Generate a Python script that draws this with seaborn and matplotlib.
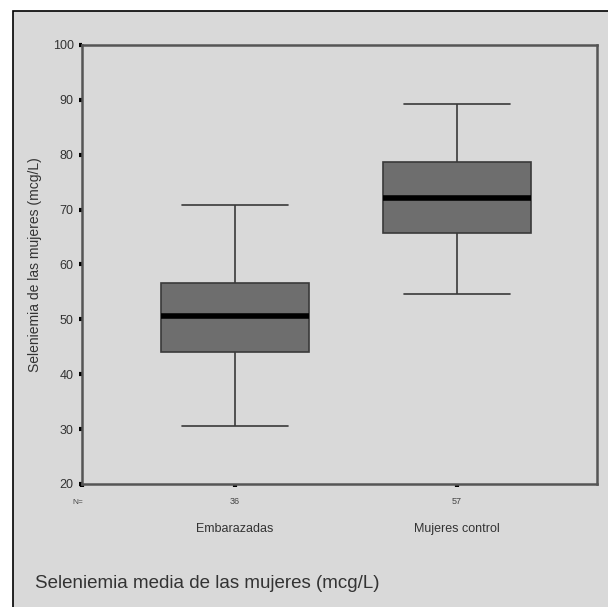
import matplotlib
matplotlib.use("Agg")
import matplotlib.pyplot as plt
import matplotlib.patches as mpatches
import matplotlib.transforms as mtransforms
import pandas as pd
import seaborn as sns

# Datos (mcg/L)
grupos = ["Embarazadas", "Mujeres control"]
n_labels = ["36", "57"]
minimo = [30.6, 54.6]
q1 = [44.1, 65.7]
mediana = [50.6, 72.2]
q3 = [56.6, 78.7]
maximo = [70.8, 89.2]
y_ticks = [20, 30, 40, 50, 60, 70, 80, 90, 100]

FONDO = "#d9d9d9"

# Cinco puntos por grupo: mín, Q1, mediana, Q3, máx
filas = []
for i, g in enumerate(grupos):
    for v in (minimo[i], q1[i], mediana[i], q3[i], maximo[i]):
        filas.append({"grupo": g, "valor": v})
df = pd.DataFrame(filas)

sns.set_theme(style="white")
plt.rcParams["font.family"] = ["Liberation Sans", "DejaVu Sans"]

fig = plt.figure(figsize=(6.08, 6.07), dpi=100, facecolor="white")
fig.patches.append(mpatches.Rectangle(
    (12.5 / 608, -0.05), 1.1, (607 - 10.5) / 607 + 0.05,
    transform=fig.transFigure, facecolor=FONDO, edgecolor="black",
    linewidth=1.2, zorder=-10))

ax = fig.add_axes([82 / 608, 1 - 484 / 607, 515 / 608, 439 / 607])
ax.set_zorder(5)
ax.set_facecolor(FONDO)

ancho = 0.67
sns.boxplot(
    data=df, x="grupo", y="valor", order=grupos, ax=ax,
    width=ancho, color="#6e6e6e", saturation=1, linecolor="#3a3a3a",
    linewidth=1.2, whis=(0, 100), showfliers=False,
    medianprops=dict(color="black", linewidth=4),
)

# Caps un poco más anchos que los de seaborn
for ln in ax.lines:
    xd, yd = list(ln.get_xdata()), list(ln.get_ydata())
    if len(xd) == 2 and yd[0] == yd[1]:
        w = abs(xd[1] - xd[0])
        if w < ancho * 0.9:
            c = (xd[0] + xd[1]) / 2
            ln.set_xdata([c - 0.24, c + 0.24])

ax.set_xlim(-0.689, 1.63)
ax.set_ylim(20, 100)
ax.set_yticks(y_ticks)
ax.set_yticklabels([str(t) for t in y_ticks], fontsize=9, color="#333333")
ax.set_xticks([-0.689, 0, 1])
ax.set_xticklabels([])
ax.tick_params(axis="both", left=True, bottom=True, length=2, width=3,
               color="black", direction="out", pad=4)
ax.set_xlabel("")
ax.set_ylabel("Seleniemia de las mujeres (mcg/L)", fontsize=10,
              color="#333333", labelpad=8)

for s in ax.spines.values():
    s.set_color("#555555")
    s.set_linewidth(1.8)

# Etiquetas bajo el eje
trans = mtransforms.blended_transform_factory(ax.transData, fig.transFigure)
ax.text(-0.71, 1 - 502 / 607, "N=", transform=trans, fontsize=6,
        ha="center", va="center", color="#444444", clip_on=False)
for i, g in enumerate(grupos):
    ax.text(i, 1 - 502 / 607, n_labels[i], transform=trans, fontsize=6.5,
            ha="center", va="center", color="#444444", clip_on=False)
    ax.text(i, 1 - 529 / 607, g, transform=trans, fontsize=9,
            ha="center", va="center", color="#333333", clip_on=False)

fig.text(35 / 608, 1 - 583 / 607, "Seleniemia media de las mujeres (mcg/L)",
         fontsize=13.5, ha="left", va="center", color="#333333")

fig.savefig("out.png", dpi=100, facecolor="white")
